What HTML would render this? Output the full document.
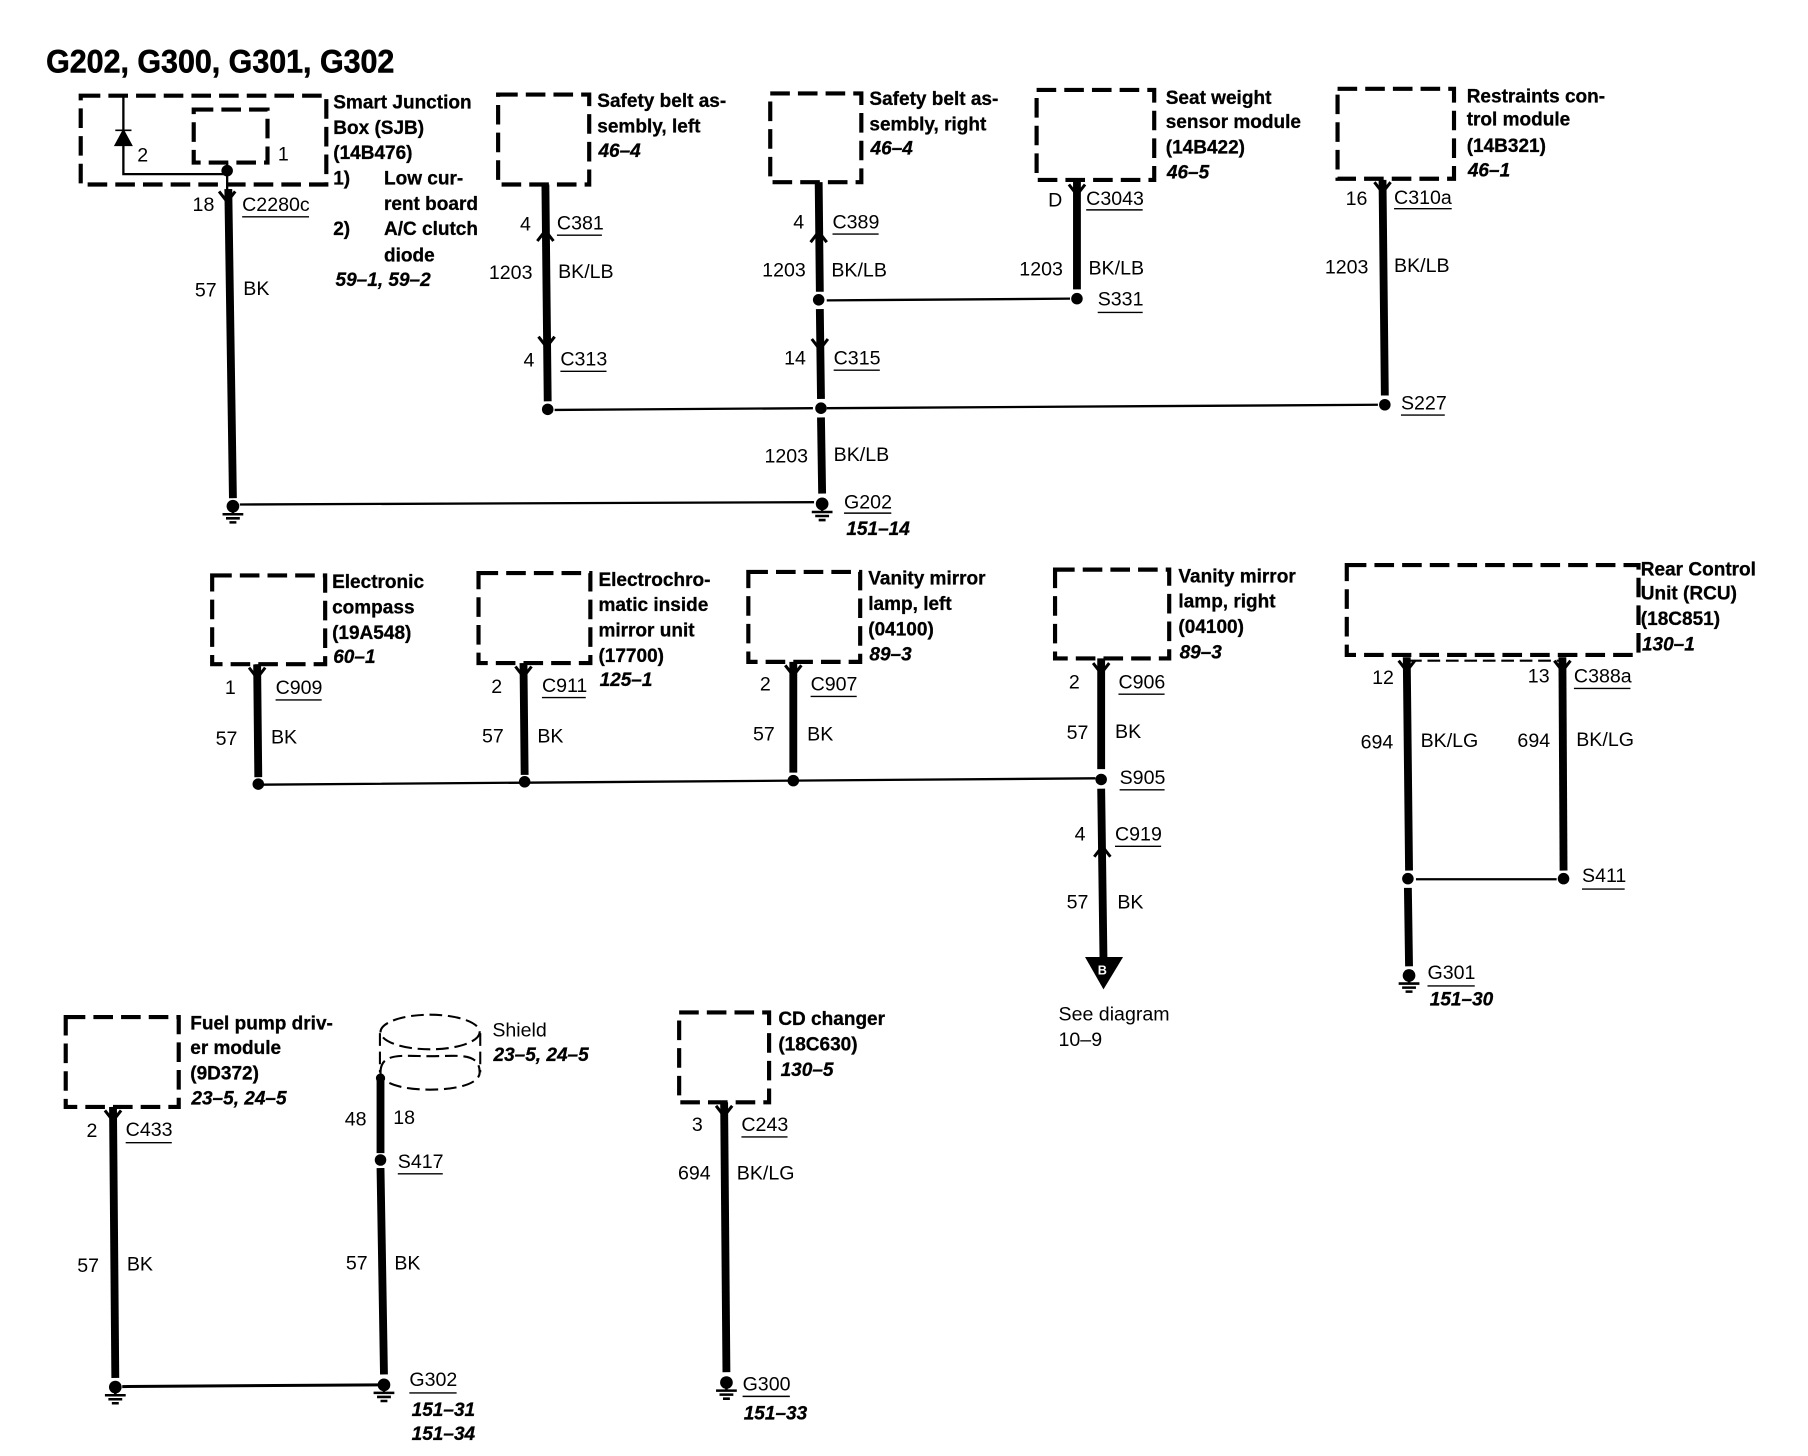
<!DOCTYPE html>
<html><head><meta charset="utf-8"><style>
html,body{margin:0;padding:0;background:#fff;width:1808px;height:1456px;overflow:hidden}
svg{display:block}
text{font-family:"Liberation Sans",sans-serif;fill:#000}
.t{font-size:28px;font-weight:bold;stroke:#000;stroke-width:.5}
.b{font-size:16.5px;font-weight:bold;stroke:#000;stroke-width:.25}
.i{font-size:16.5px;font-weight:bold;font-style:italic;stroke:#000;stroke-width:.25}
.n{font-size:17px}
.d{fill:none;stroke:#000;stroke-width:3.6;stroke-dasharray:17 7}
.s{fill:none;stroke:#000;stroke-width:1.8;stroke-dasharray:11 5}
.w{stroke:#000;stroke-width:6.8;fill:none}
.l{stroke:#000;stroke-width:2;fill:none}
.u{stroke:#000;stroke-width:1.2;fill:none}
.c{stroke:#000;stroke-width:2.4;fill:none}
</style></head><body>
<svg width="1808" height="1456" viewBox="0 0 1568 1262.7" xmlns="http://www.w3.org/2000/svg">
<defs>
<g id="g"><circle cx="0" cy="0" r="5.5" fill="#000"/><path d="M0 4V7M-9 7H9M-6 10.500H6M-3 14H3" stroke="#000" stroke-width="2.2" fill="none"/></g>
<circle id="p" r="5" fill="#000"/>
<path id="dn" d="M-7 -6L0 3L7 -6" stroke="#000" stroke-width="2.6" fill="none"/>
<path id="up" d="M-7 6L0 -3L7 6" stroke="#000" stroke-width="2.6" fill="none"/>
</defs>
<text class="t" x="40" y="63" textLength="302" lengthAdjust="spacingAndGlyphs">G202, G300, G301, G302</text>

<!-- Row 1 boxes -->
<rect class="d" x="70" y="83" width="213" height="77"/>
<rect class="d" x="168" y="95" width="64" height="46"/>
<rect class="d" x="432" y="82" width="79" height="78"/>
<rect class="d" x="668" y="81" width="79" height="77"/>
<rect class="d" x="899" y="78" width="102" height="78"/>
<rect class="d" x="1160" y="77" width="101" height="78"/>

<!-- SJB internals -->
<path class="l" d="M107 84V151H197"/>
<path d="M100 126L107 113L114 126Z M100 113H114" fill="#000" stroke="#000" stroke-width="1.5"/>
<circle cx="197" cy="148" r="5" fill="#000"/>
<path class="l" d="M197 141V165"/>
<text class="n" x="119" y="140">2</text>
<text class="n" x="241" y="139">1</text>

<!-- Row 1 wires -->
<path class="w" d="M198 164L202 432"/>
<use href="#dn" x="197" y="172"/>
<use href="#g" x="202" y="439"/>
<path class="l" d="M208 437.5L706 435.5"/>

<path class="w" d="M473 160L475 348"/>
<use href="#up" x="473" y="203"/>
<use href="#dn" x="474" y="298"/>
<use href="#p" x="475" y="355"/>
<path class="l" d="M481 355.5L705 354"/>

<path class="w" d="M710 158L711 253"/>
<use href="#up" x="710" y="204"/>
<use href="#p" x="710" y="260"/>
<path class="w" d="M711 268L712 346"/>
<use href="#dn" x="711" y="300"/>
<use href="#p" x="712" y="354"/>
<path class="w" d="M712 362L713 428"/>
<use href="#g" x="713" y="437"/>
<path class="l" d="M717 354L1195 351"/>
<path class="l" d="M717 260.500L928 259"/>

<path class="w" d="M934 156L934 251"/>
<use href="#dn" x="934" y="166"/>
<use href="#p" x="934" y="259"/>

<path class="w" d="M1199 156L1201 343"/>
<use href="#dn" x="1199" y="164"/>
<use href="#p" x="1201" y="351"/>

<!-- Row 1 labels -->
<text class="b" x="289" y="94" textLength="120" lengthAdjust="spacingAndGlyphs">Smart Junction</text>
<text class="b" x="289" y="116">Box (SJB)</text>
<text class="b" x="289" y="138">(14B476)</text>
<text class="b" x="289" y="160">1)</text>
<text class="b" x="333" y="160">Low cur-</text>
<text class="b" x="333" y="182">rent board</text>
<text class="b" x="289" y="204">2)</text>
<text class="b" x="333" y="204">A/C clutch</text>
<text class="b" x="333" y="227">diode</text>
<text class="i" x="291" y="248">59–1, 59–2</text>
<text class="n" x="167" y="183">18</text>
<text class="n" x="210" y="183">C2280c</text><path class="u" d="M210 188H268"/>
<text class="n" x="169" y="257">57</text>
<text class="n" x="211" y="256">BK</text>

<text class="b" x="518" y="93">Safety belt as-</text>
<text class="b" x="518" y="115">sembly, left</text>
<text class="i" x="519" y="136">46–4</text>
<text class="n" x="451" y="200">4</text>
<text class="n" x="483" y="199">C381</text><path class="u" d="M483 204H522"/>
<text class="n" x="424" y="242">1203</text>
<text class="n" x="484" y="241">BK/LB</text>
<text class="n" x="454" y="318">4</text>
<text class="n" x="486" y="317">C313</text><path class="u" d="M486 322H526"/>

<text class="b" x="754" y="91">Safety belt as-</text>
<text class="b" x="754" y="113">sembly, right</text>
<text class="i" x="755" y="134">46–4</text>
<text class="n" x="688" y="198">4</text>
<text class="n" x="722" y="198">C389</text><path class="u" d="M722 203H762"/>
<text class="n" x="661" y="240">1203</text>
<text class="n" x="721" y="240">BK/LB</text>
<text class="n" x="680" y="316">14</text>
<text class="n" x="723" y="316">C315</text><path class="u" d="M723 321H763"/>
<text class="n" x="663" y="401">1203</text>
<text class="n" x="723" y="400">BK/LB</text>
<text class="n" x="732" y="441">G202</text><path class="u" d="M732 445H773"/>
<text class="i" x="734" y="464">151–14</text>

<text class="b" x="1011" y="90">Seat weight</text>
<text class="b" x="1011" y="111">sensor module</text>
<text class="b" x="1011" y="133">(14B422)</text>
<text class="i" x="1012" y="155">46–5</text>
<text class="n" x="909" y="179">D</text>
<text class="n" x="942" y="178">C3043</text><path class="u" d="M942 182H991"/>
<text class="n" x="884" y="239">1203</text>
<text class="n" x="944" y="238">BK/LB</text>
<text class="n" x="952" y="265">S331</text><path class="u" d="M952 271H991"/>

<text class="b" x="1272" y="89">Restraints con-</text>
<text class="b" x="1272" y="109">trol module</text>
<text class="b" x="1272" y="132">(14B321)</text>
<text class="i" x="1273" y="153">46–1</text>
<text class="n" x="1167" y="178">16</text>
<text class="n" x="1209" y="177">C310a</text><path class="u" d="M1209 181H1259"/>
<text class="n" x="1149" y="237">1203</text>
<text class="n" x="1209" y="236">BK/LB</text>
<text class="n" x="1215" y="355">S227</text><path class="u" d="M1215 360H1253"/>

<!-- Row 2 boxes -->
<rect class="d" x="184" y="499" width="98" height="77"/>
<rect class="d" x="415" y="497" width="97" height="78"/>
<rect class="d" x="649" y="496" width="97" height="78"/>
<rect class="d" x="915" y="494" width="99" height="77"/>
<rect class="d" x="1168" y="490" width="253" height="78"/>

<!-- Row 2 wires -->
<path class="w" d="M223 576L224 674"/><use href="#dn" x="223" y="585"/><use href="#p" x="224" y="680"/>
<path class="w" d="M454 575L455 672"/><use href="#dn" x="454" y="584"/><use href="#p" x="455" y="678"/>
<path class="w" d="M688 574L688 670"/><use href="#dn" x="688" y="583"/><use href="#p" x="688" y="677"/>
<path class="w" d="M955 571L955 667"/><use href="#dn" x="955" y="581"/><use href="#p" x="955" y="676"/>
<path class="w" d="M955 684L957 832"/><use href="#up" x="956" y="737"/>
<path class="l" d="M224 680.500L688 677L950 675"/>
<path d="M941 830H974L957 858Z" fill="#000"/>
<text x="952" y="845" style="font-size:11px;font-weight:bold;fill:#fff">B</text>

<path class="w" d="M1220 570L1222 755"/><use href="#dn" x="1220" y="579"/><use href="#p" x="1221" y="762"/>
<path class="w" d="M1221 770L1222 838"/><use href="#g" x="1222" y="846"/>
<path class="w" d="M1355 570L1356 755"/><use href="#dn" x="1355" y="579"/><use href="#p" x="1356" y="762"/>
<path class="l" d="M1228 762.500H1350"/>
<path class="s" d="M1222 573H1353"/>

<!-- Row 2 labels -->
<text class="b" x="288" y="510">Electronic</text>
<text class="b" x="288" y="532">compass</text>
<text class="b" x="288" y="554">(19A548)</text>
<text class="i" x="289" y="575">60–1</text>
<text class="n" x="195" y="602">1</text>
<text class="n" x="239" y="602">C909</text><path class="u" d="M239 607H279"/>
<text class="n" x="187" y="646">57</text>
<text class="n" x="235" y="645">BK</text>

<text class="b" x="519" y="508">Electrochro-</text>
<text class="b" x="519" y="530">matic inside</text>
<text class="b" x="519" y="552">mirror unit</text>
<text class="b" x="519" y="574">(17700)</text>
<text class="i" x="520" y="595">125–1</text>
<text class="n" x="426" y="601">2</text>
<text class="n" x="470" y="600">C911</text><path class="u" d="M470 605H508"/>
<text class="n" x="418" y="644">57</text>
<text class="n" x="466" y="644">BK</text>

<text class="b" x="753" y="507">Vanity mirror</text>
<text class="b" x="753" y="529">lamp, left</text>
<text class="b" x="753" y="551">(04100)</text>
<text class="i" x="754" y="573">89–3</text>
<text class="n" x="659" y="599">2</text>
<text class="n" x="703" y="599">C907</text><path class="u" d="M703 604H743"/>
<text class="n" x="653" y="642">57</text>
<text class="n" x="700" y="642">BK</text>

<text class="b" x="1022" y="505">Vanity mirror</text>
<text class="b" x="1022" y="527">lamp, right</text>
<text class="b" x="1022" y="549">(04100)</text>
<text class="i" x="1023" y="571">89–3</text>
<text class="n" x="927" y="597">2</text>
<text class="n" x="970" y="597">C906</text><path class="u" d="M970 602H1010"/>
<text class="n" x="925" y="641">57</text>
<text class="n" x="967" y="640">BK</text>
<text class="n" x="971" y="680">S905</text><path class="u" d="M971 685H1010"/>
<text class="n" x="932" y="729">4</text>
<text class="n" x="967" y="729">C919</text><path class="u" d="M967 734H1007"/>
<text class="n" x="925" y="788">57</text>
<text class="n" x="969" y="788">BK</text>
<text class="n" x="918" y="885">See diagram</text>
<text class="n" x="918" y="907">10–9</text>

<text class="b" x="1423" y="499">Rear Control</text>
<text class="b" x="1423" y="520">Unit (RCU)</text>
<text class="b" x="1423" y="542">(18C851)</text>
<text class="i" x="1424" y="564">130–1</text>
<text class="n" x="1190" y="593">12</text>
<text class="n" x="1325" y="592">13</text>
<text class="n" x="1365" y="592">C388a</text><path class="u" d="M1365 597H1414"/>
<text class="n" x="1180" y="649">694</text>
<text class="n" x="1232" y="648">BK/LG</text>
<text class="n" x="1316" y="648">694</text>
<text class="n" x="1367" y="647">BK/LG</text>
<text class="n" x="1372" y="765">S411</text><path class="u" d="M1372 771H1409"/>
<text class="n" x="1238" y="849">G301</text><path class="u" d="M1238 855H1279"/>
<text class="i" x="1240" y="872">151–30</text>

<!-- Row 3 -->
<rect class="d" x="57" y="882" width="98" height="78"/>
<rect class="d" x="589" y="878" width="78" height="78"/>
<ellipse class="s" cx="373" cy="895" rx="43" ry="15"/>
<path class="s" d="M330 930C330 912 350 916 373 916C396 916 416 912 416 930C416 940 396 945 373 945C350 945 330 940 330 930"/>
<path class="s" d="M329.500 896V930M416.500 896V930"/>

<path class="w" d="M98 960L100 1195"/><use href="#dn" x="98" y="969"/><use href="#g" x="100" y="1203"/>
<path class="l" d="M106 1202.500L328 1201" style="stroke-width:2.6"/>
<circle cx="330" cy="935" r="4" fill="#000"/>
<path class="w" d="M330 935L330 1000"/><use href="#p" x="330" y="1006"/>
<path class="w" d="M330 1013L333 1192"/><use href="#g" x="333" y="1201"/>
<path class="w" d="M628 956L630 1190"/><use href="#dn" x="628" y="965"/><use href="#g" x="630" y="1199"/>

<text class="b" x="165" y="893">Fuel pump driv-</text>
<text class="b" x="165" y="914">er module</text>
<text class="b" x="165" y="936">(9D372)</text>
<text class="i" x="166" y="958">23–5, 24–5</text>
<text class="n" x="75" y="986">2</text>
<text class="n" x="109" y="985">C433</text><path class="u" d="M109 991H149"/>
<text class="n" x="67" y="1103">57</text>
<text class="n" x="110" y="1102">BK</text>

<text class="n" x="427" y="899">Shield</text>
<text class="i" x="428" y="920">23–5, 24–5</text>
<text class="n" x="299" y="976">48</text>
<text class="n" x="341" y="975">18</text>
<text class="n" x="345" y="1013">S417</text><path class="u" d="M345 1018H384"/>
<text class="n" x="300" y="1101">57</text>
<text class="n" x="342" y="1101">BK</text>
<text class="n" x="355" y="1202">G302</text><path class="u" d="M355 1208H396"/>
<text class="i" x="357" y="1228">151–31</text>
<text class="i" x="357" y="1249">151–34</text>

<text class="b" x="675" y="889">CD changer</text>
<text class="b" x="675" y="911">(18C630)</text>
<text class="i" x="677" y="933">130–5</text>
<text class="n" x="600" y="981">3</text>
<text class="n" x="643" y="981">C243</text><path class="u" d="M643 986H683"/>
<text class="n" x="588" y="1023">694</text>
<text class="n" x="639" y="1023">BK/LG</text>
<text class="n" x="644" y="1206">G300</text><path class="u" d="M644 1211H685"/>
<text class="i" x="645" y="1231">151–33</text>
</svg>
</body></html>
